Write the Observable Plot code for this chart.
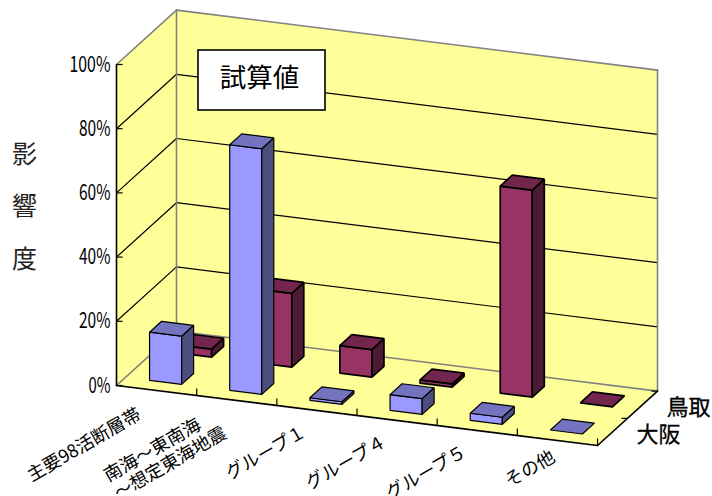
<!DOCTYPE html>
<html><head><meta charset="utf-8">
<script src="https://cdn.jsdelivr.net/npm/d3@7"></script>
<script src="https://cdn.jsdelivr.net/npm/@observablehq/plot@0.6"></script>
<style>html,body{margin:0;padding:0;background:#fff}svg{display:block}</style>
</head><body><div id="chart"></div>
<script>
// ---- data ----
const categories = ["主要98活断層帯","南海～東南海　\n～想定東海地震","グループ１","グループ４","グループ５","その他"];
const seriesNames = ["大阪","鳥取"];
const osaka   = [15, 76.5, 0.8, 4.9, 2.2, 0.1];
const tottori = [2.5, 23, 8.6, 1, 64.5, 0.1];
const valueTicks = [0,20,40,60,80,100];
const noteLabel = "試算値";
const axisTitle = "影\n響\n度";

// ---- oblique projection, in data units (category, series, percent) ----
const pxPerCat = 80.17, pxPerPct = 3.21;
const xPerSeries = 30/pxPerCat, vPerSeries = 27.2/pxPerPct, vPerCat = 10/pxPerPct;
const P = (c,s,v) => ({x: c + s*xPerSeries, y: v - c*vPerCat + s*vPerSeries});
const nC = categories.length, nS = seriesNames.length;

const colors = {
  "大阪": {front:"#9999FF", top:"#7373BF", side:"#4D4D80"},
  "鳥取": {front:"#993366", top:"#73264D", side:"#4D1A33"}
};
const poly = (id, fill, corners) => corners.map(([c,s,v]) => ({id, fill, ...P(c,s,v)}));

function bars(name, si, values){
  const col = colors[name], s0 = si+.3, s1 = si+.7, out = [];
  values.forEach((v,i)=>{
    const c0=i+.3, c1=i+.7, k=name+i;
    if (v > 0.5) {
      out.push(...poly(k+"f",col.front,[[c0,s0,0],[c1,s0,0],[c1,s0,v],[c0,s0,v]]));
      out.push(...poly(k+"s",col.side,[[c1,s0,0],[c1,s1,0],[c1,s1,v],[c1,s0,v]]));
    }
    out.push(...poly(k+"t",col.top,[[c0,s0,v],[c1,s0,v],[c1,s1,v],[c0,s1,v]]));
  });
  return out;
}
const walls = [
  ...poly("back","#FFFF99",[[0,nS,0],[nC,nS,0],[nC,nS,100],[0,nS,100]]),
  ...poly("left","#FFFF99",[[0,0,0],[0,nS,0],[0,nS,100],[0,0,100]]),
  ...poly("floor","#FFFF99",[[0,0,0],[nC,0,0],[nC,nS,0],[0,nS,0]])
];
const seg = (id,a,b) => [{id,...P(...a)},{id,...P(...b)}];
const grayEdges = [
  ...seg("g1",[0,0,0],[0,nS,0]), ...seg("g2",[0,nS,0],[nC,nS,0]),
  ...seg("g3",[0,nS,0],[0,nS,100]), ...seg("g4",[nC,nS,0],[nC,nS,100]),
  ...seg("g5",[0,nS,100],[nC,nS,100]), ...seg("g6",[0,0,100],[0,nS,100])
];
const gridLines = valueTicks.filter(v=>v>0&&v<100).flatMap(v=>[
  ...seg("a"+v,[0,0,v],[0,nS,v]), ...seg("b"+v,[0,nS,v],[nC,nS,v])
]);
const blackEdges = [
  ...seg("e1",[0,0,0],[0,0,100]), ...seg("e2",[0,0,0],[nC,0,0]), ...seg("e3",[nC,0,0],[nC,nS,0])
];
const cjk = "'Noto Sans CJK JP'";
const polys = (data,sw) => Plot.line(data,{x:"x",y:"y",z:"id",fill:"fill",stroke:"#000",strokeWidth:sw,curve:"linear-closed",strokeLinejoin:"miter"});
// shorter labels sit further along the axis direction
const labelShift = d => Math.max(2, 32 - 5*Math.max(...d.split("\n").map(l=>l.length)));

const chart = Plot.plot({
  width:712, height:496, margin:0,
  style:{background:"#fff", fontFamily:cjk},
  x:{domain:[-116/pxPerCat,(712-116)/pxPerCat], range:[0,712], axis:null},
  y:{domain:[-(496-385)/pxPerPct,385/pxPerPct], range:[496,0], axis:null},
  color:{type:"identity"},
  marks:[
    Plot.line(walls,{x:"x",y:"y",z:"id",fill:"fill",stroke:"none",curve:"linear-closed"}),
    Plot.line(gridLines,{x:"x",y:"y",z:"id",stroke:"#000",strokeWidth:1.2}),
    Plot.line(grayEdges,{x:"x",y:"y",z:"id",stroke:"#808080",strokeWidth:1.6}),
    // value ticks
    Plot.link(valueTicks,{x1:()=>0,x2:()=>6/pxPerCat,y1:d=>d,y2:d=>d,stroke:"#000",strokeWidth:1.2}),
    Plot.line(blackEdges,{x:"x",y:"y",z:"id",stroke:"#000",strokeWidth:1.6}),
    // category and series ticks
    Plot.link(d3.range(1,nC+1),{x1:d=>d,x2:d=>d,y1:d=>P(d,0,0).y,y2:d=>P(d,0,0).y+7/pxPerPct,stroke:"#000",strokeWidth:1.2}),
    Plot.link(d3.range(1,nS+1),{x1:d=>P(nC,d,0).x,x2:d=>P(nC,d,0).x-6/pxPerCat,y1:d=>P(nC,d,0).y,y2:d=>P(nC,d,0).y,stroke:"#000",strokeWidth:1.2}),
    // note box
    Plot.rect([noteLabel],{x1:()=>(198-116)/pxPerCat,x2:()=>(325-116)/pxPerCat,y1:()=>(385-50)/pxPerPct,y2:()=>(385-110)/pxPerPct,fill:"#fff",stroke:"#000",strokeWidth:1.6}),
    Plot.text([noteLabel],{x:()=>(259-116)/pxPerCat,y:()=>(385-78)/pxPerPct,text:d=>d,fontSize:26.5,fill:"#000"}),
    // bars, back series first
    polys(bars(seriesNames[1],1,tottori),1.7),
    polys(bars(seriesNames[0],0,osaka),1.2),
    // text
    Plot.text(valueTicks,{x:()=>0,y:d=>d,text:d=>d+"%",textAnchor:"end",dx:-6,fontSize:22,className:"vtick",fill:"#000"}),
    Plot.text([axisTitle],{x:()=>(24-116)/pxPerCat,y:()=>(385-198)/pxPerPct,text:d=>d,fontSize:25,lineHeight:2.1,fill:"#222"}),
    Plot.text(categories,{
      x:(d,i)=>P(i+.5,0,0).x + labelShift(d)*.866/pxPerCat,
      y:(d,i)=>P(i+.5,0,0).y + labelShift(d)*.5/pxPerPct,
      text:d=>d,rotate:-30,textAnchor:"end",lineHeight:1.12,fontSize:18,fill:"#000",dx:-19,dy:23}),
    Plot.text(seriesNames,{x:(d,i)=>P(nC,i+.5,0).x,y:(d,i)=>P(nC,i+.5,0).y,text:d=>d,textAnchor:"start",dx:24,dy:3,fontSize:22,stroke:"#000",strokeWidth:.3,fill:"#000"})
  ]
});
// half-width digits, as in the reference's gothic face
d3.select(chart).selectAll(".vtick text").each(function(){
  const n = this.textContent.length - 1;
  d3.select(this).attr("textLength", 9.5*n+12.5).attr("lengthAdjust","spacingAndGlyphs");
});
document.getElementById("chart").append(chart);
</script></body></html>
